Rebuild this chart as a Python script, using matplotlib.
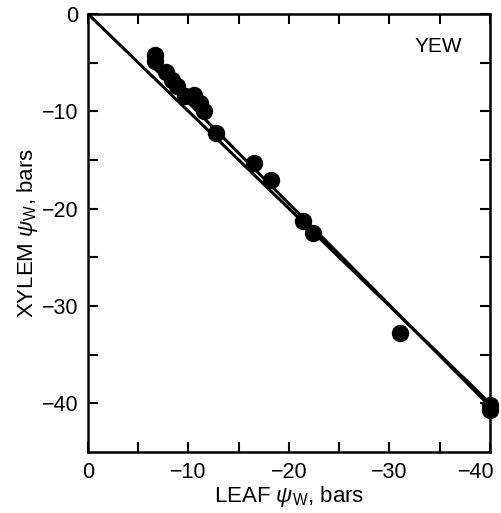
import numpy as np
import matplotlib.pyplot as plt
import matplotlib.transforms as mtransforms

plt.rcParams['font.family'] = ['Liberation Sans', 'DejaVu Sans']
plt.rcParams['mathtext.fontset'] = 'custom'
plt.rcParams['mathtext.it'] = 'Liberation Sans:italic'
plt.rcParams['mathtext.rm'] = 'Liberation Sans'

# leaf vs xylem water potential (bars), yew
leaf = [-6.7, -6.7, -7.8, -8.4, -8.9, -9.7, -10.6, -11.2, -11.6, -12.7,
        -16.5, -18.2, -21.4, -22.4, -31.1, -40.0, -40.0]
xylem = [-4.2, -4.8, -6.0, -6.8, -7.4, -8.4, -8.3, -9.2, -10.0, -12.2,
         -15.3, -17.1, -21.3, -22.5, -32.8, -40.2, -40.7]

# fitted line endpoints
fit_x = [-6.7, -40.0]
fit_slope, fit_icpt = 1.04, 1.3

fig = plt.figure(figsize=(5.02, 5.13), dpi=100)
ax = fig.add_axes([0.175, 0.119, 0.801, 0.854])

# 1:1 line
ax.plot([0, -40], [0, -40], color='black', lw=2.2, solid_capstyle='butt')
fx = np.array(fit_x)
ax.plot(fx, fit_icpt + fit_slope * fx, color='black', lw=2.2, solid_capstyle='butt')
ax.plot(leaf, xylem, 'o', color='black', ms=11.5, clip_on=False, zorder=3)

ax.set_xlim(0, -40)
ax.set_ylim(-45, 0)
ax.set_xticks([0, -10, -20, -30, -40])
ax.set_xticklabels(['0', '\u221210', '\u221220', '\u221230', '\u221240'])
ax.set_yticks([0, -10, -20, -30, -40])
ax.set_yticklabels(['0', '\u221210', '\u221220', '\u221230', '\u221240'])
ax.set_xticks(np.arange(-5, -40, -5), minor=True)
ax.set_yticks(np.arange(-5, -45, -5), minor=True)
ax.tick_params(which='both', direction='in', top=True, right=True,
               length=7, width=1.5, labelsize=15.5, pad=7)

# keep the last x label inside the figure
last = ax.get_xticklabels()[-1]
last.set_transform(last.get_transform() +
                   mtransforms.ScaledTranslation(-0.14, 0, fig.dpi_scale_trans))

for s in ax.spines.values():
    s.set_linewidth(1.8)

ax.text(-34.9, -3.4, 'YEW', fontsize=15, ha='center', va='center')

ax.set_xlabel(r'LEAF $\psi_{\rm W}$, bars', fontsize=16, labelpad=1)
ax.set_ylabel(r'XYLEM $\psi_{\rm W}$, bars', fontsize=16, labelpad=1)

fig.savefig('out.png', dpi=100)
